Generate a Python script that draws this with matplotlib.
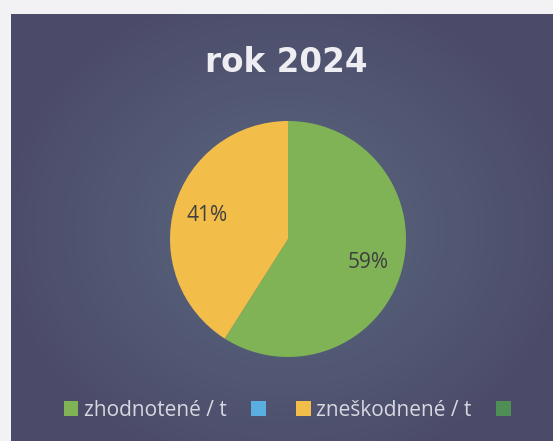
import numpy as np
from matplotlib import pyplot as plt
from matplotlib.patches import Patch

title = 'rok 2024'
values = [59, 41]
slice_colors = ['#7fb356', '#f3bd4a']
legend_labels = ['zhodnotené / t', '', 'zneškodnené / t', '']
legend_colors = ['#7fb356', '#5aaee0', '#f3bd4a', '#4f8f55']

W, H = 553, 441
fig = plt.figure(figsize=(W / 100, H / 100), dpi=100)
fig.patch.set_facecolor('#f2f2f4')

# dark panel with a soft radial gradient
bg = fig.add_axes([0, 0, 1, 1])
bg.set_xlim(0, W)
bg.set_ylim(H, 0)
bg.axis('off')
px0, py0 = 11, 14
yy, xx = np.mgrid[py0:H, px0:W]
d = np.hypot((xx - 285) / 300.0, (yy - 230) / 260.0)
d = np.clip(d, 0, 1)[..., None]
inner = np.array([0x5a, 0x68, 0x80]) / 255.0
outer = np.array([0x4b, 0x4a, 0x68]) / 255.0
img = inner * (1 - d) + outer * d
bg.imshow(img, extent=(px0, W, H, py0), aspect='auto', interpolation='bilinear')

bg.text(286, 62, title, color='#eeeef2', fontsize=23.5, fontweight='bold',
        family='DejaVu Sans', ha='center', va='center')

# pie
cx, cy, r = 288, 239, 118
ax = fig.add_axes([(cx - r) / W, (H - cy - r) / H, 2 * r / W, 2 * r / H])
wedges, texts, autotexts = ax.pie(values, colors=slice_colors, startangle=90,
                                  counterclock=False, autopct='%1.0f%%',
                                  pctdistance=0.71, radius=1,
                                  textprops=dict(color='#3f3f3f', fontsize=15,
                                                 family='Open Sans'))
ax.set_xlim(-1, 1)
ax.set_ylim(-1, 1)
ax.set_aspect('equal')
ax.axis('off')

handles = [Patch(facecolor=c, edgecolor='none') for c in legend_colors]
leg = fig.legend(handles, legend_labels, loc='center', ncol=4,
                 bbox_to_anchor=(290 / W, (H - 410) / H), frameon=False,
                 prop=dict(family='Open Sans', size=15), labelcolor='#d8d8e0',
                 handlelength=0.7, handleheight=0.7, handletextpad=0.25,
                 columnspacing=1.2)

fig.savefig('out.png', dpi=100, facecolor=fig.get_facecolor())
